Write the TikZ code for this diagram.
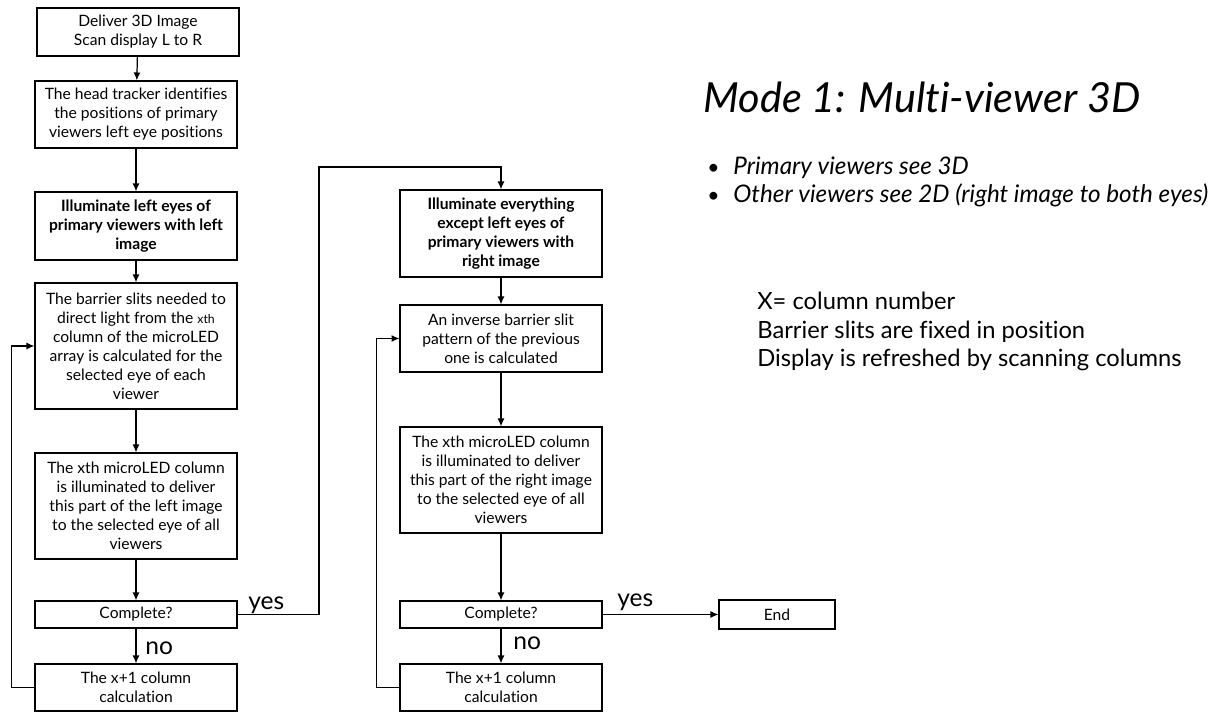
\documentclass[tikz,border=0pt]{standalone}
\usepackage{fontspec}
\setmainfont{Lato}[Ligatures={NoCommon,NoRequired,NoContextual}]
\usetikzlibrary{arrows.meta}

\begin{document}
\begin{tikzpicture}[x=0.02cm,y=-0.02cm,
        >={Latex[length=4.5pt,width=4pt]},
        box/.style={draw,line width=0.7pt,align=center,minimum width=4.04cm,
            inner sep=1pt,font=\fontsize{8.9}{10.8}\selectfont},
        link/.style={->,line width=0.7pt},
        answer/.style={inner sep=0pt,font=\fontsize{14}{16}\selectfont},
        note/.style={inner sep=0pt,anchor=base west,font=\fontsize{13.5}{15}\selectfont}]

        \useasboundingbox (0,0) rectangle (1215,712);

        % Left column: left image pass
        \node[box,minimum height=0.96cm] (start) at (138,32) {Deliver 3D Image\\Scan display L to R};
        \node[box,minimum height=1.34cm] (track) at (136,114.5) {The head tracker identifies\\the positions of primary\\viewers left eye positions};
        \node[box,minimum height=1.36cm,font=\fontsize{8.9}{10.8}\selectfont\bfseries] (lefteye) at (136,226) {Illuminate left eyes of\\primary viewers with left\\image};
        \node[box,minimum height=2.52cm] (slitsL) at (136,346) {The barrier slits needed to\\direct light from the {\fontsize{7}{8}\selectfont xth}\\column of the microLED\\array is calculated for the\\selected eye of each\\viewer};
        \node[box,minimum height=2.12cm] (ledL) at (136,506) {The xth microLED column\\is illuminated to deliver\\this part of the left image\\to the selected eye of all\\viewers};
        \node[box,minimum height=0.54cm] (doneL) at (136,614.5) {Complete?};
        \node[box,minimum height=0.94cm] (nextL) at (136,687.5) {The x+1 column\\calculation};

        % Right column: right image pass
        \node[box,minimum height=1.74cm,font=\fontsize{8.9}{10.8}\selectfont\bfseries] (righteye) at (501,233.5) {Illuminate everything\\except left eyes of\\primary viewers with\\right image};
        \node[box,minimum height=1.34cm] (slitsR) at (501,338.5) {An inverse barrier slit\\pattern of the previous\\one is calculated};
        \node[box,minimum height=2.12cm] (ledR) at (501,480) {The xth microLED column\\is illuminated to deliver\\this part of the right image\\to the selected eye of all\\viewers};
        \node[box,minimum height=0.54cm] (doneR) at (501,614.5) {Complete?};
        \node[box,minimum height=0.94cm] (nextR) at (501,687.5) {The x+1 column\\calculation};
        \node[box,minimum width=2.32cm,minimum height=0.58cm] (finish) at (777,614.5) {End};

        % Straight arrows down each column
        \foreach \a/\b in {start/track,track/lefteye,lefteye/slitsL,slitsL/ledL,ledL/doneL,doneL/nextL,
                righteye/slitsR,slitsR/ledR,ledR/doneR,doneR/nextR} {
            \draw[link] (\a) -- (\b);
        }

        % Loops back for the next column
        \draw[link] (nextL.west) -- ++(-23,0) |- (slitsL.west);
        \draw[link] (nextR.west) -- ++(-23,0) |- (slitsR.west);

        % Left pass finished: jump over to the right pass
        \coordinate (jump) at (319,167);
        \draw[link] (doneL.east) -| (jump) -| (righteye.north);
        \draw[link] (doneR) -- (finish);

        % Answers
        \node[answer,anchor=base west] (yesL) at (248,610) {yes};
        \node[answer,anchor=west] (noL) at (145,648) {no};
        \node[answer,anchor=base west] (yesR) at (617,607) {yes};
        \node[answer,anchor=west] (noR) at (513,643) {no};

        % Title and notes
        \node[inner sep=0pt,anchor=base west,font=\fontsize{23.6}{26}\selectfont\itshape] (title) at (703,113) {Mode 1: Multi-viewer 3D};
        \foreach \txt [count=\i from 0] in {Primary viewers see 3D,Other viewers see 2D (right image to both eyes)} {
            \node[note,font=\fontsize{13.8}{15}\selectfont\itshape] (point\i) at (733,{175+28*\i}) {\txt};
            \node[note,font=\fontsize{12}{14}\selectfont] (dot\i) at (707,{175+28*\i}) {\textbullet};
        }
        \foreach \txt [count=\i from 0] in {X= column number,Barrier slits are fixed in position,Display is refreshed by scanning columns} {
            \node[note] (note\i) at (757,{310+28.5*\i}) {\txt};
        }
    \end{tikzpicture}
\end{document}
